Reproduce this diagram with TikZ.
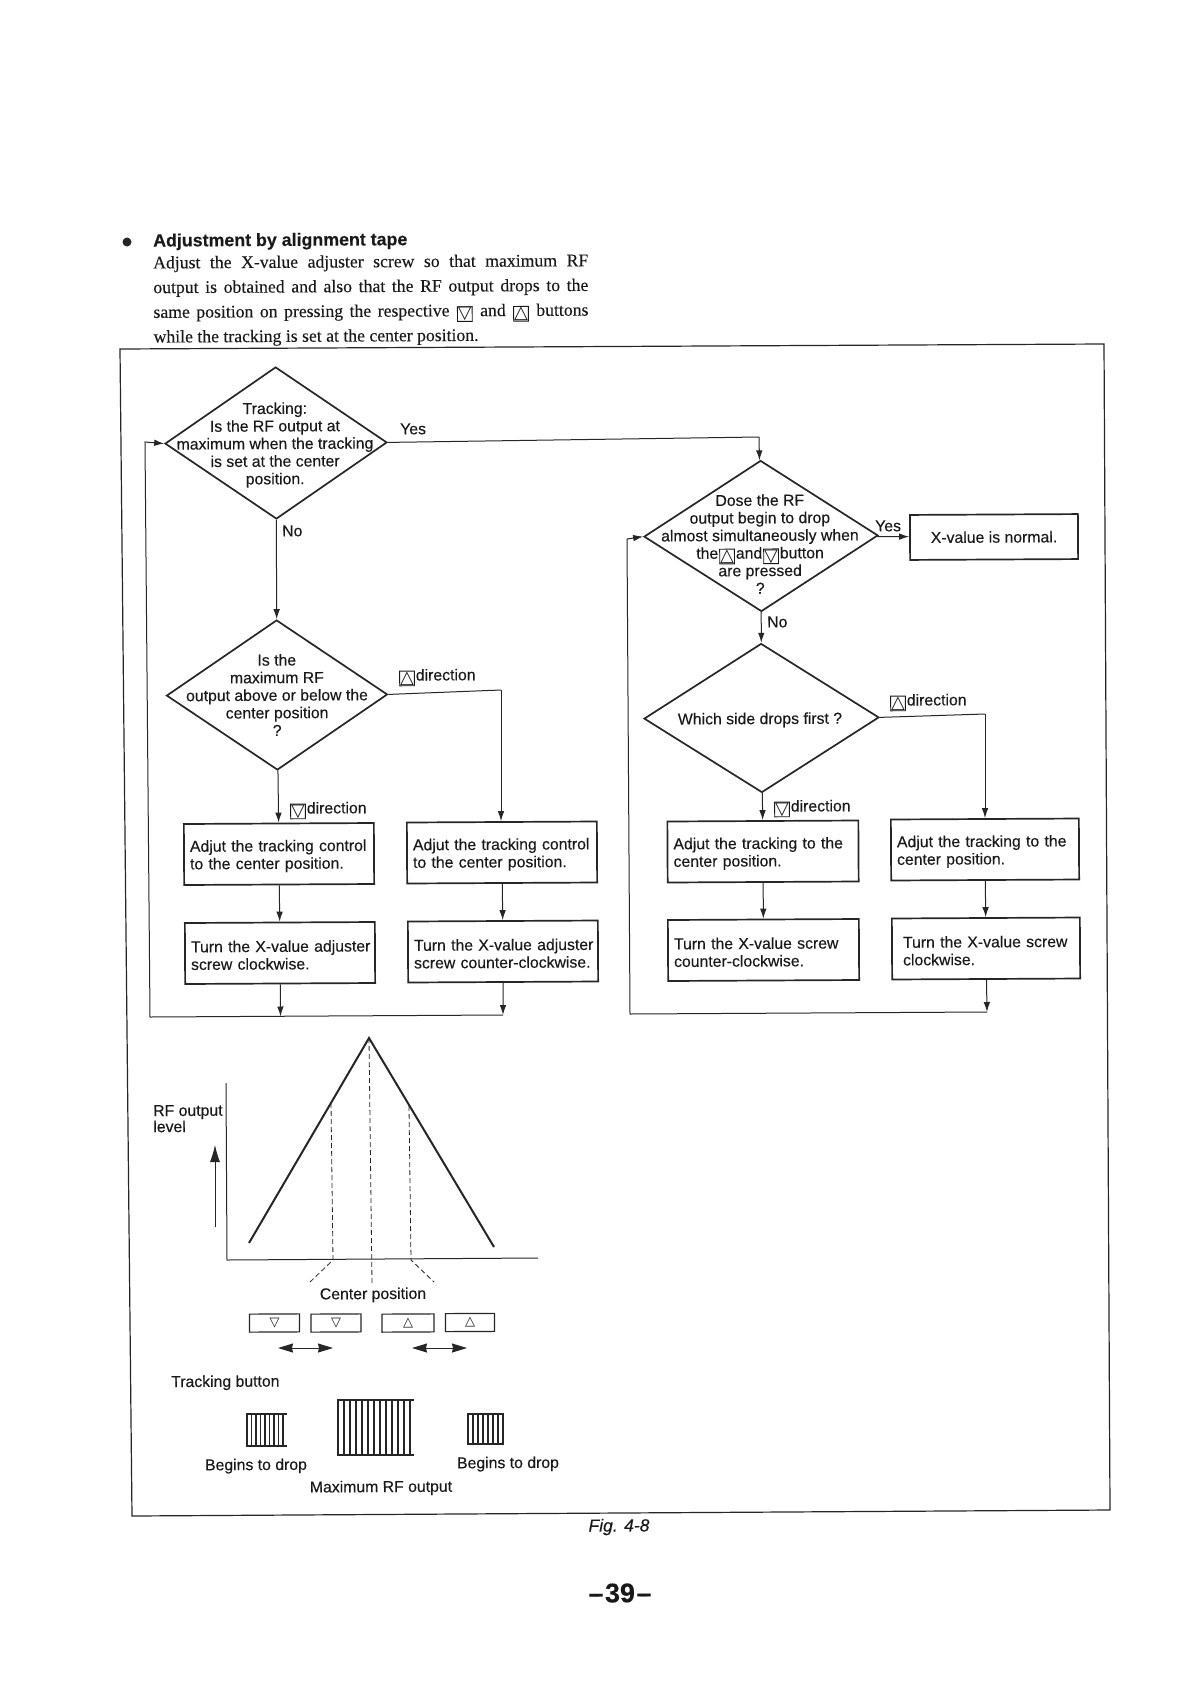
\documentclass[tikz,border=0pt]{standalone}
\usepackage{fontspec}
\setmainfont{Liberation Sans}[FakeBold=0.25]
\newfontfamily\paperfont{Liberation Serif}[FakeBold=0.15]
\newfontfamily\glyphfont{DejaVu Sans}
\usepackage{tikz}
\usetikzlibrary{arrows.meta,shapes.geometric}

\setlength{\fboxsep}{0pt}
\setlength{\fboxrule}{0.9pt}
\newcommand{\upkey}{\hspace{1pt}\raisebox{-2.5pt}[11pt][0pt]{\fbox{\glyphfont\fontsize{18}{18}\selectfont △}}\hspace{1pt}}
\newcommand{\downkey}{\hspace{1pt}\raisebox{-2.5pt}[11pt][0pt]{\fbox{\glyphfont\fontsize{18}{18}\selectfont ▽}}\hspace{1pt}}
\newcommand{\fitline}[2]{\rule{0pt}{15.5pt}\makebox[#1][s]{#2}}

\tikzset{
    every node/.style={font=\fontsize{15.8}{17.6}\selectfont, text=black!90, rotate=0.3},
    decision/.style={diamond, draw=black!85, line width=1.7pt, inner sep=0pt, minimum width=#1},
    dtext/.style={align=center, inner sep=0pt},
    stepbox/.style={draw=black!85, line width=1.7pt, minimum width=190pt, minimum height=61pt,
        text width=178pt, inner xsep=6pt, inner ysep=0pt, align=left},
    lbl/.style={anchor=west, inner sep=0pt},
    conn/.style={draw=black!85, line width=1pt},
    flow/.style={conn, -{Latex[length=10pt,width=6.5pt]}},
    trace/.style={draw=black!85, line width=2pt},
    guide/.style={draw=black!85, line width=0.8pt, dash pattern=on 5pt off 3pt},
    keybox/.style={draw=black!85, line width=1.2pt, minimum width=50pt, minimum height=18pt,
        inner sep=0pt, font=\glyphfont\fontsize{13}{13}\selectfont},
    spread/.style={conn, {Stealth[length=15pt,width=9pt,inset=1pt]}-{Stealth[length=15pt,width=9pt,inset=1pt]}},
    rfbar/.style={draw=black!85, line width=1.6pt},
    rfedge/.style={draw=black!85, line width=2.4pt},
}

\begin{document}
\begin{tikzpicture}[x=1pt, y=-1pt]
    \useasboundingbox (0, 0) rectangle (1191, 1683);

    % Intro text
    \node[circle, fill=black!85, inner sep=0pt, minimum size=9pt] (bullet) at (127, 242) {};
    \node[lbl, font=\bfseries\fontsize{17.8}{20}\selectfont] (heading) at (153, 242) {Adjustment by alignment tape};
    \node[anchor=north west, inner sep=0pt, text width=435pt, align=justify,
        font=\paperfont\fontsize{17.7}{24.7}\selectfont] (intro) at (153, 256)
        {Adjust the X-value adjuster screw so that maximum RF\linebreak
         output is obtained and also that the RF output drops to the\linebreak
         same position on pressing the respective \downkey{} and \upkey{} buttons\linebreak
         while the tracking is set at the center position.};

    % Outer frame
    \draw[draw=black!85, line width=1.2pt] (120, 349) -- (1104, 344) -- (1110, 1510) -- (132, 1516) -- cycle;

    % Left column
    \node[decision=222pt, minimum height=152pt] (track) at (276, 443) {};
    \node[dtext] (tracktxt) at (275, 445) {Tracking:\\Is the RF output at\\maximum when the tracking\\is set at the center\\position.};
    \node[decision=221pt, minimum height=150pt] (above) at (277, 695) {};
    \node[dtext] (abovetxt) at (277, 695) {Is the\\maximum RF\\output above or below the\\center position\\?};

    \node[stepbox] (adjleft) at (279, 854) {\fitline{177pt}{Adjut the tracking control}\\to the center position.};
    \node[stepbox] (adjright) at (502, 852.5) {\fitline{178pt}{Adjut the tracking control}\\to the center position.};
    \node[stepbox] (turnleft) at (280, 953) {\fitline{177pt}{Turn the X-value adjuster}\\screw clockwise.};
    \node[stepbox] (turnright) at (503, 951.5) {\fitline{178pt}{Turn the X-value adjuster}\\screw counter-clockwise.};

    \coordinate (backleft) at (150, 1017);
    \coordinate (backleftup) at (145, 442);
    \coordinate (joinleft) at (280.5, 1016.5);
    \coordinate (joinright) at (503, 1015);
    \coordinate (aboveturn) at (501, 690);

    \draw[flow] (track) -- (above);
    \draw[flow] (above) -- (adjleft);
    \draw[conn] (above.east) -- (aboveturn);
    \draw[flow] (aboveturn) -- (adjright.north -| aboveturn);
    \draw[flow] (adjleft) -- (turnleft);
    \draw[flow] (adjright) -- (turnright);
    \draw[flow] (turnleft) -- (joinleft);
    \draw[flow] (turnright) -- (joinright);
    \draw[flow] (joinright) -- (backleft) -- (backleftup) -- (track.west);

    \node[lbl] (yesa) at (400, 429) {Yes};
    \node[lbl] (noa) at (282, 531) {No};
    \node[lbl] (updira) at (398, 675) {\upkey{}direction};
    \node[lbl] (downdira) at (289, 808) {\downkey{}direction};

    % Right column
    \node[decision=234pt, minimum height=151pt] (simul) at (761, 536) {};
    \node[dtext] (simultxt) at (760, 544) {Dose the RF\\output begin to drop\\almost simultaneously when\\the\upkey{}and\downkey{}button\\are pressed\\?};
    \node[decision=235pt, minimum height=149pt] (side) at (761.5, 718) {};
    \node[dtext] (sidetxt) at (760, 720) {Which side drops first ?};
    \node[draw=black!85, line width=1.7pt, minimum width=168pt, minimum height=45pt, inner sep=0pt] (normal) at (994, 537) {X-value is normal.};

    \node[stepbox, minimum width=191pt, text width=179pt] (adjmid) at (763, 851.5) {\fitline{179pt}{Adjut the tracking to the}\\center position.};
    \node[stepbox, minimum width=188pt, text width=176pt] (adjfar) at (985, 849.5) {\fitline{176pt}{Adjut the tracking to the}\\center position.};
    \node[stepbox, minimum width=191pt, text width=179pt] (turnmid) at (763.5, 950) {\fitline{172pt}{Turn the X-value screw}\\counter-clockwise.};
    \node[stepbox, minimum width=188pt, text width=166pt] (turnfar) at (986, 948.5) {\fitline{166pt}{Turn the X-value screw}\\clockwise.};

    \coordinate (yesturn) at (759, 437);
    \coordinate (sideturn) at (985, 714);
    \coordinate (joinfar) at (987, 1012);
    \coordinate (backright) at (630, 1014);
    \coordinate (backrightup) at (627, 539);

    \draw[conn] (track.east) -- (yesturn);
    \draw[flow] (yesturn) -- (simul);
    \draw[flow] (simul) -- (normal);
    \draw[flow] (simul) -- (side);
    \draw[conn] (side.east) -- (sideturn);
    \draw[flow] (sideturn) -- (adjfar.north -| sideturn);
    \draw[flow] (side) -- (adjmid);
    \draw[flow] (adjmid) -- (turnmid);
    \draw[flow] (adjfar) -- (turnfar);
    \draw[flow] (turnfar) -- (joinfar);
    \draw[flow] (joinfar) -- (backright) -- (backrightup) -- (simul.west);

    \node[lbl] (yesb) at (875, 526) {Yes};
    \node[lbl] (nob) at (767, 622) {No};
    \node[lbl] (updirb) at (889, 700) {\upkey{}direction};
    \node[lbl] (downdirb) at (773, 806) {\downkey{}direction};

    % RF level plot
    \draw[conn] (226, 1083) -- (227, 1260) -- (538, 1258);
    \draw[trace] (249, 1243) -- (369, 1038) -- (494, 1247);
    \draw[-{Latex[length=17pt,width=10pt]}, draw=black!85, line width=0.8pt] (215, 1227) -- (215, 1145);
    \node[anchor=north west, inner sep=0pt, align=left] (rflevel) at (153, 1105) {RF output\\[-1.5pt]level};

    % Guide lines
    \draw[guide] (331, 1103) -- (333, 1260) -- (310, 1282);
    \draw[guide] (369, 1038) -- (372, 1283);
    \draw[guide] (409, 1106) -- (411, 1260) -- (434, 1282);
    \node[inner sep=0pt] (center) at (373, 1295) {Center position};

    % Tracking buttons
    \node[keybox] (keya) at (274.5, 1323) {▽};
    \node[keybox] (keyb) at (336, 1323) {▽};
    \node[keybox, minimum width=52pt] (keyc) at (408, 1323) {△};
    \node[keybox, minimum width=49pt] (keyd) at (470, 1322.5) {△};
    \coordinate (spreada) at (278, 1348);
    \coordinate (spreadb) at (333, 1348);
    \coordinate (spreadc) at (412, 1348);
    \coordinate (spreadd) at (467, 1348);
    \draw[spread] (spreada) -- (spreadb);
    \draw[spread] (spreadc) -- (spreadd);
    \node[lbl] (trackbtn) at (171, 1383) {Tracking button};

    % RF bars
    \foreach \x in {247, 251.5, ..., 287} \draw[rfbar] (\x, 1413) -- (\x, 1447);
    \draw[rfedge] (246, 1414) -- (287, 1414) (246, 1446) -- (287, 1446);
    \foreach \x in {338, 344, ..., 414} \draw[rfbar] (\x, 1399) -- (\x, 1456);
    \draw[rfedge] (337, 1400) -- (414, 1400) (337, 1455) -- (414, 1455);
    \foreach \x in {468, 473, ..., 504} \draw[rfbar] (\x, 1413) -- (\x, 1445);
    \draw[rfedge] (467, 1414) -- (504, 1414) (467, 1444) -- (504, 1444);

    \node[inner sep=0pt] (dropa) at (256, 1466) {Begins to drop};
    \node[inner sep=0pt] (dropb) at (508, 1464) {Begins to drop};
    \node[inner sep=0pt] (maxrf) at (381, 1488) {Maximum RF output};

    % Caption and page number
    \node[inner sep=0pt, font=\itshape\fontsize{17.5}{18}\selectfont] (figcap) at (619, 1527) {Fig. 4-8};
    \node[inner sep=0pt, font=\bfseries\fontsize{27}{29}\selectfont] (pageno) at (620, 1593) {–\hspace{1.5pt}39\hspace{1.5pt}–};
\end{tikzpicture}
\end{document}
